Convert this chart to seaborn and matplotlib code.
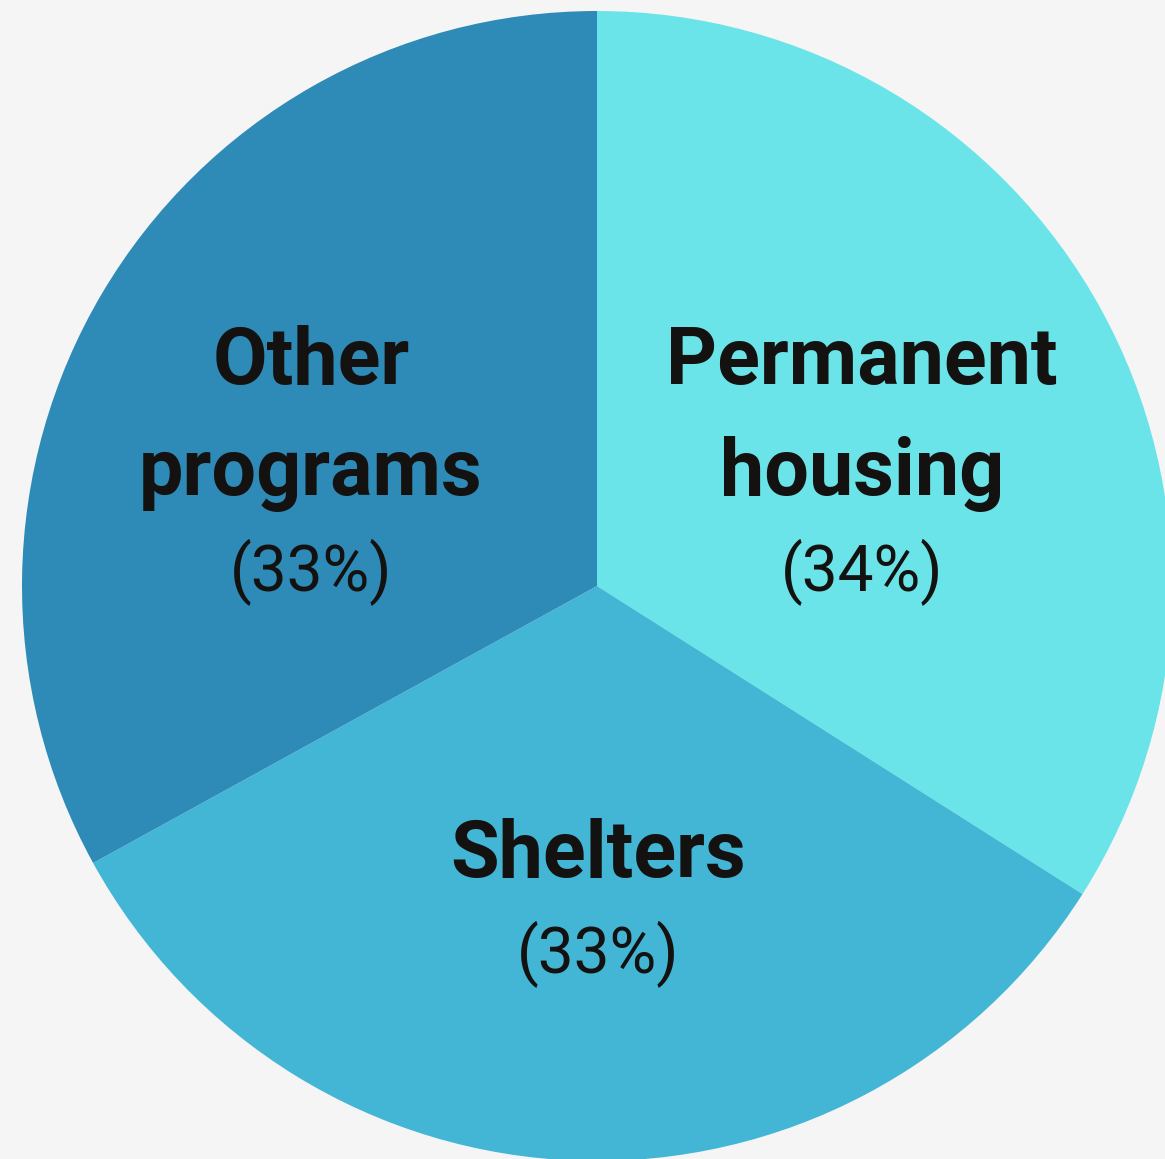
import matplotlib.pyplot as plt
import seaborn as sns

# Data
categories = ["Permanent\nhousing", "Shelters", "Other\nprograms"]
shares = [34, 33, 33]
colors = ["#6ae4e8", "#43b6d6", "#2e8bb8"]

sns.set_theme(style="white")
plt.rcParams["font.family"] = ["Roboto", "DejaVu Sans"]

fig = plt.figure(figsize=(11.65, 11.59), dpi=100, facecolor="#f5f5f5")
ax = fig.add_axes([0, 0, 1, 1])
ax.set_facecolor("#f5f5f5")

ax.pie(shares, colors=colors, startangle=90, counterclock=False,
       radius=575, center=(0, 0), frame=True,
       wedgeprops=dict(linewidth=0))
# pixel-based data space, pie centre at (597, 586) px from top-left
ax.set_xlim(-597, 1165 - 597)
ax.set_ylim(-(1159 - 586), 586)
ax.axis("off")

# label anchor (x centre, first baseline) in px offsets from pie centre
label_pos = [(265, 202), (1, -291), (-286, 202)]
line_gap = 111
pct_gap = 96

for name, share, (x, y) in zip(categories, shares, label_pos):
    lines = name.split("\n")
    for i, ln in enumerate(lines):
        ax.text(x, y - i * line_gap, ln, ha="center", va="baseline",
                fontsize=57, fontweight="bold", color="#141210")
    yb = y - (len(lines) - 1) * line_gap - pct_gap
    ax.text(x, yb, f"({share}%)", ha="center", va="baseline",
            fontsize=46, color="#141210")

fig.savefig("out.png", dpi=100, facecolor="#f5f5f5")
